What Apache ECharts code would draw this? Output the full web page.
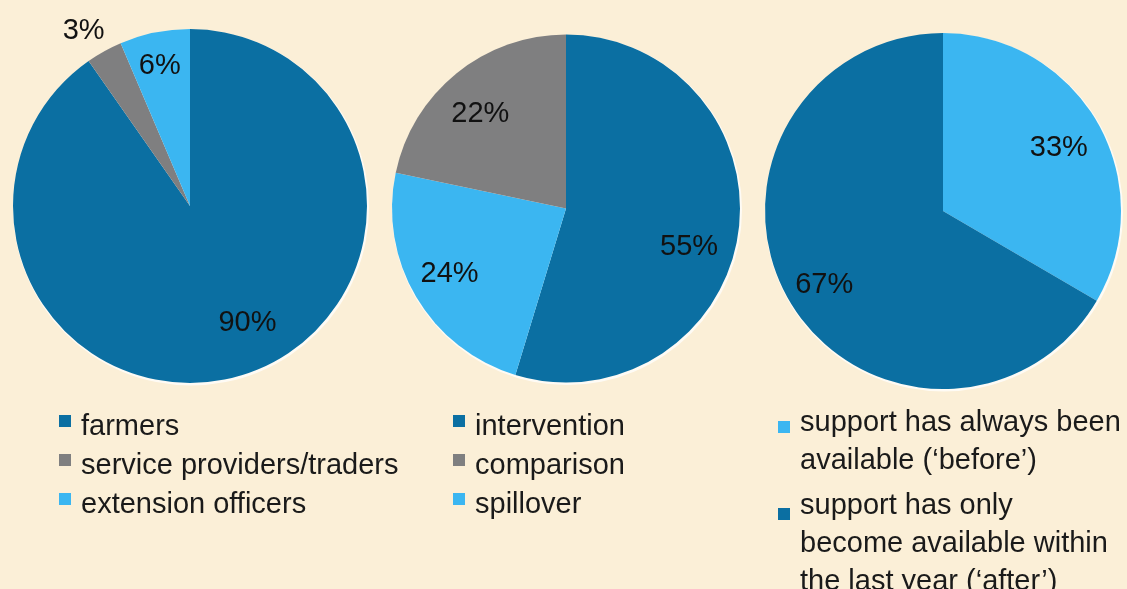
<!DOCTYPE html>
<html>
<head>
<meta charset="utf-8">
<script src="https://cdn.jsdelivr.net/npm/echarts@6/dist/echarts.min.js"></script>
<style>
  html, body { margin: 0; padding: 0; background: #fbefd7; }
  #chart { width: 1127px; height: 589px; }
</style>
</head>
<body>
<div id="chart"></div>
<script>
// who answered (pie 1)
var roleNames = ['farmers', 'service providers/traders', 'extension officers'];
var roleShare = [90.2, 3.3, 6.4];

// which group (pie 2), slices in drawing order
var groupNames = ['intervention', 'spillover', 'comparison'];
var groupShare = [54.7, 23.6, 21.7];
var groupLegend = ['intervention', 'comparison', 'spillover'];

// when support became available (pie 3)
var supportNames = [
  'support has always been\navailable (‘before’)',
  'support has only\nbecome available within\nthe last year (‘after’)'
];
var supportShare = [33.4, 66.6];

var DARK = '#0b6fa2', GREY = '#7f7f80', LIGHT = '#3bb6f1';
var FONT = '"Liberation Sans", Helvetica, Arial, sans-serif';

function pie(names, values, colors, center, radius, shifts) {
  return {
    type: 'pie',
    center: center,
    radius: radius,
    startAngle: 90,
    clockwise: true,
    silent: true,
    animation: false,
    z: 2,
    itemStyle: { borderWidth: 0 },
    label: {
      position: 'inside',
      fontSize: 29,
      fontFamily: FONT,
      color: '#111',
      formatter: function (p) { return Math.round(p.value) + '%'; }
    },
    labelLine: { show: false },
    // push labels out from the default r/2 spot
    labelLayout: function (p) {
      var s = shifts[p.dataIndex];
      return { dx: s[0], dy: s[1] };
    },
    data: names.map(function (n, i) {
      return { name: n, value: values[i], itemStyle: { color: colors[i] } };
    })
  };
}

// faint light rim peeking out at the lower right of each pie
function rim(center, radius) {
  return {
    type: 'pie',
    center: [center[0] + 1, center[1] + 1.5],
    radius: radius + 1,
    silent: true,
    animation: false,
    z: 1,
    label: { show: false },
    labelLine: { show: false },
    itemStyle: { color: 'rgba(255,255,255,0.75)' },
    data: [{ name: '', value: 1 }]
  };
}

var legendText = { fontSize: 29, fontFamily: FONT, color: '#1a1a1a', lineHeight: 38 };
// square sits a little above the text middle
var smallIcon = 'path://M0,0h12v12h-12z M17,24h0.01';

var myChart = echarts.init(document.getElementById('chart'));

var option = {
  backgroundColor: '#fbefd7',
  legend: [
    {
      data: roleNames,
      orient: 'vertical', left: 59, top: 408, padding: 0,
      itemWidth: 17, itemHeight: 24, itemGap: 1,
      icon: smallIcon, selectedMode: false, textStyle: legendText
    },
    {
      data: groupLegend,
      orient: 'vertical', left: 453, top: 408, padding: 0,
      itemWidth: 17, itemHeight: 24, itemGap: 1,
      icon: smallIcon, selectedMode: false, textStyle: legendText
    },
    {
      data: [
        { name: supportNames[0], icon: 'path://M0,0h0.01 M0,17h12v12h-12z M17,76h0.01' },
        { name: supportNames[1], icon: 'path://M0,0h0.01 M0,2h12v12h-12z M17,76h0.01' }
      ],
      orient: 'vertical', left: 778, top: 404, height: 220, padding: 0,
      itemWidth: 17, itemHeight: 76, itemGap: 7,
      selectedMode: false, textStyle: legendText
    }
  ],
  series: [
    rim([190, 206], 177),
    rim([566, 208.5], 174),
    rim([943, 211], 178),
    pie(roleNames, roleShare, [DARK, GREY, LIGHT], [190, 206], 177,
        [[30, 30], [-62, -95], [-12, -50]]),
    pie(groupNames, groupShare, [DARK, LIGHT, GREY], [566, 208.5], 174,
        [[34, 25], [-39, 20], [-29, -25]]),
    pie(supportNames, supportShare, [LIGHT, DARK], [943, 211], 178,
        [[36, -17], [-39, 28]])
  ]
};

myChart.setOption(option);
</script>
</body>
</html>
